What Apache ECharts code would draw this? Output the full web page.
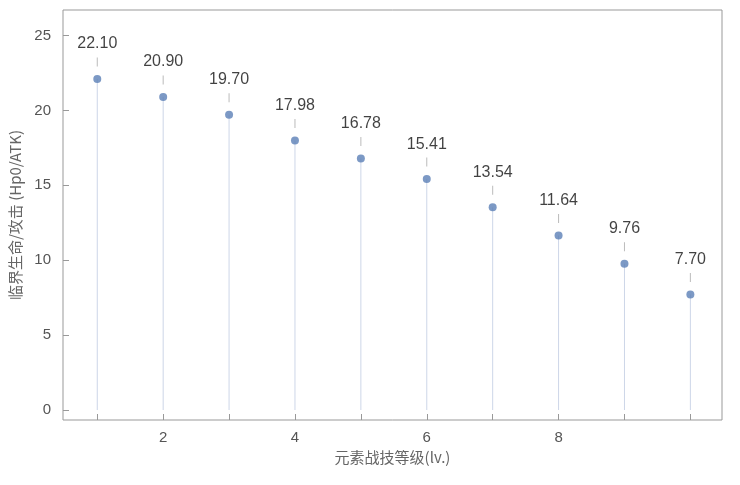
<!DOCTYPE html>
<html><head><meta charset="utf-8">
<script src="https://cdn.jsdelivr.net/npm/echarts@6/dist/echarts.min.js"></script>
<style>html,body{margin:0;background:#fff}#c{width:740px;height:485px}</style>
</head><body><div id="c"></div>
<script>
const levels = [1,2,3,4,5,6,7,8,9,10];
const values = [22.10,20.90,19.70,17.98,16.78,15.41,13.54,11.64,9.76,7.70];
const xTicks = [2,4,6,8];
const xMinor = [1,3,5,7,9,10];
const yTicks = [0,5,10,15,20,25];
const pts = levels.map((l,i)=>[l,values[i]]);
const font = '"Liberation Sans", Arial, sans-serif';
const chart = echarts.init(document.getElementById('c'));
chart.setOption({
  animation:false,
  grid:{left:62,right:18,top:10,bottom:65,show:true,borderColor:'#999',borderWidth:1},
  xAxis:{type:'value',min:0.48,max:10.48,
    name:'元素战技等级(lv.)',nameLocation:'middle',nameGap:30,
    nameTextStyle:{color:'#666',fontSize:15,fontFamily:'"Noto Sans CJK SC"'},
    axisLine:{show:false,onZero:false},splitLine:{show:false},
    axisTick:{show:true,inside:true,length:6,lineStyle:{color:'#999'},customValues:xTicks.concat(xMinor)},
    axisLabel:{color:'#555',fontSize:15,fontFamily:font,margin:10,customValues:xTicks}},
  yAxis:{type:'value',min:-0.67,max:26.7,
    name:'临界生命/攻击 (Hp0/ATK)',nameLocation:'middle',nameGap:40,
    nameTextStyle:{color:'#666',fontSize:15,fontFamily:'"Noto Sans CJK SC"'},
    axisLine:{show:false,onZero:false},splitLine:{show:false},
    axisTick:{show:true,inside:true,length:6,lineStyle:{color:'#999'},customValues:yTicks},
    axisLabel:{color:'#555',fontSize:15,fontFamily:font,margin:12,customValues:yTicks}},
  series:[
    {type:'bar',data:pts,barWidth:1,itemStyle:{color:'#cdd6e8'},silent:true},
    {type:'scatter',data:pts,symbol:'rect',symbolSize:[1,9],symbolOffset:[0,-17],
      itemStyle:{color:'#aaa'},silent:true},
    {type:'scatter',data:pts,symbolSize:8,itemStyle:{color:'#5b7fb7'},
      label:{show:true,position:'top',distance:23,color:'#111',fontSize:16,fontFamily:font,
        formatter:p=>p.value[1].toFixed(2)}}
  ]
});
</script></body></html>
